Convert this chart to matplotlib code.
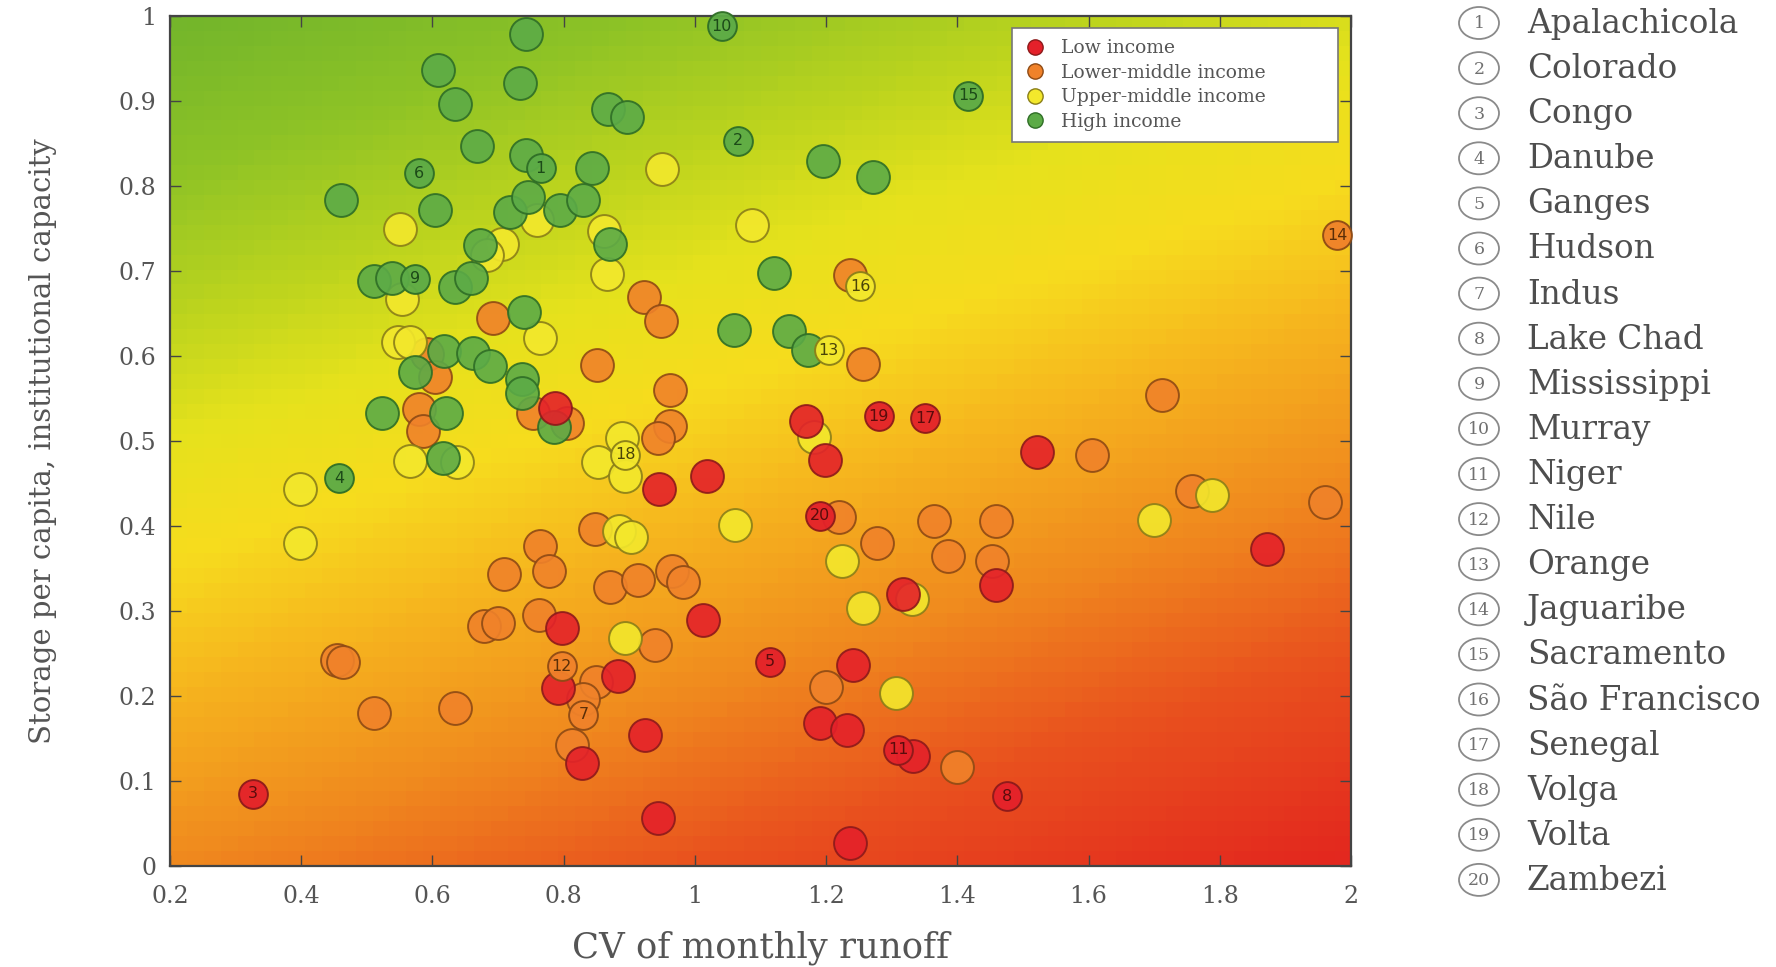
import numpy as np
import matplotlib
matplotlib.use("Agg")
import matplotlib.pyplot as plt
from matplotlib.colors import LinearSegmentedColormap
from matplotlib.lines import Line2D
from matplotlib.patches import Ellipse

# ---------------- data ----------------
low_x = [0.787, 0.945, 1.019, 0.797, 0.792, 0.883, 0.924, 0.828, 0.944, 1.170,
         1.198, 1.521, 1.459, 1.317, 1.012, 1.241, 1.190, 1.232, 1.333, 1.236, 1.872]
low_y = [0.539, 0.443, 0.459, 0.280, 0.209, 0.223, 0.154, 0.121, 0.056, 0.523,
         0.478, 0.487, 0.331, 0.320, 0.290, 0.236, 0.168, 0.160, 0.129, 0.027, 0.373]

lmid_x = [0.922, 0.693, 0.948, 0.591, 0.604, 0.851, 0.962, 0.580, 0.585, 0.754,
          0.805, 0.962, 0.944, 0.764, 0.848, 0.709, 0.777, 0.871, 0.914, 0.965,
          0.982, 0.678, 0.700, 0.763, 0.939, 0.454, 0.464, 0.850, 0.830, 0.812,
          0.511, 0.634, 1.236, 1.256, 1.220, 1.365, 1.459, 1.277, 1.386, 1.453,
          1.200, 1.400, 1.712, 1.605, 1.757, 1.961]
lmid_y = [0.670, 0.645, 0.641, 0.602, 0.575, 0.590, 0.560, 0.538, 0.512, 0.533,
          0.521, 0.518, 0.503, 0.376, 0.396, 0.344, 0.347, 0.328, 0.337, 0.347,
          0.334, 0.282, 0.286, 0.295, 0.260, 0.242, 0.240, 0.217, 0.197, 0.142,
          0.180, 0.186, 0.695, 0.591, 0.411, 0.406, 0.406, 0.380, 0.365, 0.359,
          0.211, 0.116, 0.554, 0.483, 0.441, 0.428]

umid_x = [0.950, 0.550, 0.760, 0.861, 0.706, 0.683, 0.866, 0.553, 1.087, 0.764,
          0.548, 0.566, 0.566, 0.637, 0.398, 0.889, 0.853, 0.894, 0.398, 0.884,
          0.902, 0.894, 1.181, 1.061, 1.224, 1.256, 1.331, 1.307, 1.700, 1.788]
umid_y = [0.820, 0.750, 0.760, 0.747, 0.732, 0.719, 0.696, 0.667, 0.754, 0.621,
          0.616, 0.616, 0.476, 0.475, 0.443, 0.504, 0.475, 0.459, 0.380, 0.394,
          0.387, 0.268, 0.505, 0.401, 0.359, 0.304, 0.314, 0.204, 0.407, 0.436]

high_x = [0.742, 0.608, 0.635, 0.734, 0.868, 0.896, 0.668, 0.742, 0.843, 1.195,
          1.271, 0.461, 0.604, 0.718, 0.746, 0.794, 0.830, 0.673, 0.870, 0.511,
          0.539, 0.634, 0.659, 0.740, 0.618, 0.662, 0.688, 0.574, 0.736, 0.736,
          0.785, 1.059, 1.144, 1.173, 1.120, 0.523, 0.621, 0.616]
high_y = [0.979, 0.937, 0.897, 0.921, 0.891, 0.881, 0.847, 0.837, 0.821, 0.830,
          0.811, 0.783, 0.772, 0.769, 0.787, 0.772, 0.783, 0.731, 0.732, 0.688,
          0.692, 0.681, 0.692, 0.652, 0.606, 0.604, 0.588, 0.581, 0.573, 0.557,
          0.517, 0.631, 0.630, 0.607, 0.698, 0.533, 0.533, 0.480]

basin_names = ["Apalachicola", "Colorado", "Congo", "Danube", "Ganges", "Hudson",
               "Indus", "Lake Chad", "Mississippi", "Murray", "Niger", "Nile",
               "Orange", "Jaguaribe", "Sacramento", "São Francisco", "Senegal",
               "Volga", "Volta", "Zambezi"]
basin_x = [0.765, 1.066, 0.326, 0.458, 1.114, 0.580, 0.830, 1.475, 0.573, 1.041,
           1.310, 0.797, 1.204, 1.979, 1.417, 1.252, 1.351, 0.894, 1.280, 1.190]
basin_y = [0.821, 0.853, 0.085, 0.456, 0.240, 0.815, 0.178, 0.082, 0.691, 0.988,
           0.137, 0.235, 0.607, 0.742, 0.906, 0.682, 0.527, 0.484, 0.529, 0.412]
basin_group = ["high", "high", "low", "high", "low", "high", "lmid", "low", "high", "high",
               "low", "lmid", "umid", "lmid", "high", "umid", "low", "umid", "low", "low"]

group_labels = ["Low income", "Lower-middle income", "Upper-middle income", "High income"]
x_ticks = [0.2, 0.4, 0.6, 0.8, 1.0, 1.2, 1.4, 1.6, 1.8, 2.0]
x_tick_labels = ["0.2", "0.4", "0.6", "0.8", "1", "1.2", "1.4", "1.6", "1.8", "2"]
y_ticks = [0, 0.1, 0.2, 0.3, 0.4, 0.5, 0.6, 0.7, 0.8, 0.9, 1.0]
y_tick_labels = ["0", "0.1", "0.2", "0.3", "0.4", "0.5", "0.6", "0.7", "0.8", "0.9", "1"]

# ---------------- styles ----------------
FILL = {"low": "#e4212a", "lmid": "#f0822a", "umid": "#f3e82c", "high": "#5cab47"}
EDGE = {"low": "#8c1a1a", "lmid": "#8e4a14", "umid": "#8a7e18", "high": "#2f6e26"}
TXT = {"low": "#5a0c0c", "lmid": "#5a2e08", "umid": "#4a4408", "high": "#1c4a18"}
GRAY = "#555555"
SERIF = ["DejaVu Serif"]

plt.rcParams["font.family"] = SERIF

fig = plt.figure(figsize=(17.76, 9.67), dpi=100)
ax = fig.add_axes([170 / 1776, 1 - 866 / 967, 1181 / 1776, 850 / 967])

# background gradient (stepped look)
bg_cmap = LinearSegmentedColormap.from_list(
    "bg",
    [(0.00, "#e3281f"), (0.17, "#e9521e"), (0.31, "#f08a1f"), (0.45, "#f6b51e"),
     (0.56, "#f7dc1e"), (0.66, "#e6e21c"), (0.76, "#bcd41e"), (0.88, "#8ec326"),
     (1.00, "#74b62b")])
BG_SLOPE = 0.25
nx, ny = 70, 57
gx = np.linspace(0.2, 2.0, nx)
gy = np.linspace(0.0, 1.0, ny)
GX, GY = np.meshgrid(gx, gy)
field = GY - BG_SLOPE * (GX - 0.2)
ax.imshow(field, extent=[0.2, 2.0, 0.0, 1.0], origin="lower", aspect="auto",
          cmap=bg_cmap, vmin=-0.45, vmax=1.0, interpolation="nearest", zorder=0)

S_MAIN = 560
S_NUM = 430
groups = [("lmid", lmid_x, lmid_y), ("umid", umid_x, umid_y),
          ("high", high_x, high_y), ("low", low_x, low_y)]
for g, xs, ys in groups:
    ax.scatter(xs, ys, s=S_MAIN, c=FILL[g], edgecolors=EDGE[g], linewidths=1.4,
               alpha=0.9, zorder=3)

for i, (bx, by, g) in enumerate(zip(basin_x, basin_y, basin_group)):
    ax.scatter([bx], [by], s=S_NUM, c=FILL[g], edgecolors=EDGE[g], linewidths=1.4,
               alpha=0.95, zorder=4, clip_on=False)
    ax.text(bx, by, str(i + 1), ha="center", va="center", fontsize=11.5,
            color=TXT[g], zorder=5, family=["DejaVu Sans"])

ax.set_xlim(0.2, 2.0)
ax.set_ylim(0.0, 1.0)
ax.set_xticks(x_ticks)
ax.set_xticklabels(x_tick_labels)
ax.set_yticks(y_ticks)
ax.set_yticklabels(y_tick_labels)
ax.tick_params(direction="in", length=8, width=1.0, colors="#444444",
               labelcolor=GRAY, labelsize=17, top=True, right=True)
ax.tick_params(axis="x", pad=14)
ax.tick_params(axis="y", pad=10)
for sp in ax.spines.values():
    sp.set_color("#444444")
    sp.set_linewidth(1.6)

ax.set_xlabel("CV of monthly runoff", fontsize=25.5, color=GRAY, labelpad=16)
ax.set_ylabel("Storage per capita, institutional capacity", fontsize=21,
              color=GRAY, labelpad=44)

handles = [Line2D([0], [0], marker="o", linestyle="none", markersize=11,
                  markerfacecolor=FILL[g], markeredgecolor=EDGE[g], markeredgewidth=1.0)
           for g in ["low", "lmid", "umid", "high"]]
leg = ax.legend(handles, group_labels, loc="upper left",
                bbox_to_anchor=(0.713, 0.851, 0.276, 0.135), mode="expand",
                fontsize=13.5, frameon=True, fancybox=False, framealpha=1.0,
                edgecolor="#777777", handletextpad=0.8, labelspacing=0.35,
                borderpad=0.6, handlelength=1.2, borderaxespad=0)
for t in leg.get_texts():
    t.set_color(GRAY)
leg.get_frame().set_linewidth(1.2)
leg.set_zorder(10)

# right-hand key of numbered basins
kax = fig.add_axes([1420 / 1776, 0, 356 / 1776, 1])
kax.set_xlim(1420, 1776)
kax.set_ylim(967, 0)
kax.axis("off")
for i, name in enumerate(basin_names):
    yy = 23 + i * 45.1
    kax.add_patch(Ellipse((1479, yy), 40, 32, facecolor="white",
                          edgecolor="#8a8a8a", linewidth=1.3))
    kax.text(1479, yy + 1, str(i + 1), ha="center", va="center", fontsize=12.5,
             color="#707070")
    kax.text(1527, yy + 1, name, ha="left", va="center", fontsize=23.5,
             color="#4e4e4e")

fig.savefig("out.png", dpi=100)
